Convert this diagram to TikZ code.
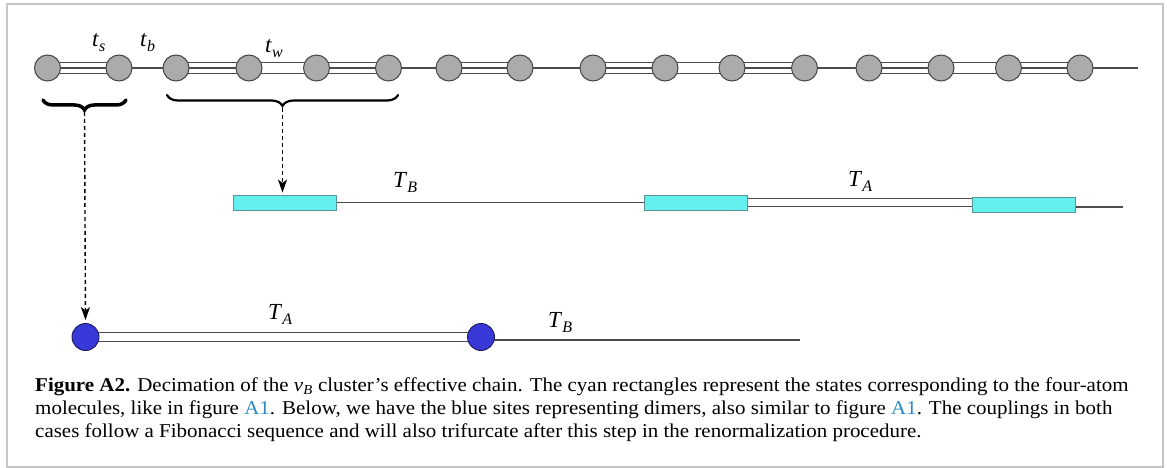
\documentclass[tikz,border=0pt]{standalone}
\usepackage{fontspec}
\setmainfont{Liberation Serif}
\newfontfamily\capfont{Liberation Serif}[FakeStretch=1.07]
\usetikzlibrary{arrows.meta,decorations.pathreplacing,backgrounds}

\definecolor{atomfill}{HTML}{ABABAB}
\definecolor{atomedge}{HTML}{454545}
\definecolor{bondcol}{HTML}{4C4C4C}
\definecolor{cyanfill}{HTML}{62EFEE}
\definecolor{cyanedge}{HTML}{5A9497}
\definecolor{dimerfill}{HTML}{3838D8}
\definecolor{dimeredge}{HTML}{1C1C5C}
\definecolor{linkblue}{HTML}{2A8AC6}
\definecolor{framegray}{HTML}{C6C6C6}

% coupling label: italic symbol with a lowered italic index
\newcommand{\coup}[2]{\textit{#1}\raisebox{-5pt}{\fontsize{16}{16}\selectfont\textit{#2}}}

% strong bond: two outer lines and a centre line; weak bond: two lines
\newcommand{\strongbond}[2]{\draw[wbond] (#1.center) -- (#2.center); \draw[bondline] (#1.center) -- (#2.center);}
\newcommand{\weakbond}[2]{\draw[wbond] (#1.center) -- (#2.center);}

\begin{document}
\begin{tikzpicture}[x=1pt,y=-1pt,
  atom/.style={circle,draw=atomedge,fill=atomfill,line width=1pt,minimum size=26pt,inner sep=0pt},
  molecule/.style={rectangle,draw=cyanedge,fill=cyanfill,line width=0.9pt,minimum width=103pt,minimum height=15pt,inner sep=0pt},
  dimer/.style={circle,draw=dimeredge,fill=dimerfill,line width=0.9pt,minimum size=27pt,inner sep=0pt},
  bondline/.style={draw=bondcol,line width=1.2pt},
  wbond/.style={bondline,double=white,double distance=10.2pt},
  effbond/.style={bondline,double=white,double distance=7.8pt},
  lbl/.style={anchor=base west,inner sep=0pt,font=\fontsize{23}{23}\selectfont},
  captionline/.style={anchor=base west,inner sep=0pt,font=\capfont\fontsize{19.6}{23}\selectfont},
  bracebig/.style={decorate,decoration={brace,mirror,amplitude=10pt},line width=3.5pt,line cap=round},
  bracewide/.style={decorate,decoration={brace,mirror,amplitude=11pt},line width=2.2pt,line cap=round},
  maparrow/.style={line width=1.4pt,dash pattern=on 4pt off 3pt,-{Stealth[length=13pt,width=9pt,inset=3.5pt]}}
]
\useasboundingbox (0,0) rectangle (1167,468);
\draw[framegray,line width=2pt] (7,4) rectangle (1163,467);

% original chain
\foreach \i/\x in {1/47.5,2/119,3/176,4/249,5/316.5,6/388.5,7/449,8/520,
                   9/593,10/665,11/732,12/804.5,13/869,14/941,15/1008.5,16/1080}
  \node[atom] (a\i) at (\x,68) {};
\coordinate (chainend) at (1138,68);

\begin{pgfonlayer}{background}
  \strongbond{a1}{a2}
  \draw[bondline] (a2.center) -- (a3.center);
  \strongbond{a3}{a4}
  \weakbond{a4}{a5}
  \strongbond{a5}{a6}
  \draw[bondline] (a6.center) -- (a7.center);
  \strongbond{a7}{a8}
  \draw[bondline] (a8.center) -- (a9.center);
  \strongbond{a9}{a10}
  \weakbond{a10}{a11}
  \strongbond{a11}{a12}
  \draw[bondline] (a12.center) -- (a13.center);
  \strongbond{a13}{a14}
  \weakbond{a14}{a15}
  \strongbond{a15}{a16}
  \draw[bondline] (a16.center) -- (chainend);
\end{pgfonlayer}

\node[lbl] (ts) at (92,47) {\coup{t}{s}};
\node[lbl] (tb) at (140,47) {\coup{t}{b}};
\node[lbl] (tw) at (265,53) {\coup{t}{w}};

% braces grouping the dimer and the four-atom molecule
\draw[bracebig] (43,100) -- (126,100);
\coordinate (dimtip) at (84.5,112);
\draw[bracewide] (167,95) -- (398,95);
\coordinate (moltip) at (282.5,108);

% effective chain of four-atom molecules
\node[molecule] (m1) at (285,202.5) {};
\node[molecule] (m2) at (695.5,202.5) {};
\node[molecule] (m3) at (1023.5,204.5) {};
\coordinate (molend) at (1123,207);
\draw[bondline] (m1.east) -- (m2.west);
\begin{pgfonlayer}{background}
  \draw[bondline,double=white,double distance=7pt] (m2.center) -- (m2.center -| m3.center);
  \draw[bondline] (m3.center |- molend) -- (molend);
\end{pgfonlayer}
\node[lbl] (TB1) at (393,187) {\coup{T}{B}};
\node[lbl] (TA1) at (848,186) {\coup{T}{A}};

% effective chain of dimers
\node[dimer] (d1) at (85.5,337) {};
\node[dimer] (d2) at (481,337) {};
\coordinate (dimend) at (800,340);
\begin{pgfonlayer}{background}
  \draw[effbond] (d1.center) -- (d2.center);
  \draw[bondline] (d2.center |- dimend) -- (dimend);
\end{pgfonlayer}
\node[lbl] (TA2) at (268,319) {\coup{T}{A}};
\node[lbl] (TB2) at (548,327) {\coup{T}{B}};

% decimation arrows
\draw[maparrow,shorten >=3pt] (dimtip) -- (d1.north);
\draw[maparrow,shorten >=2pt] (moltip) -- (moltip |- m1.north);

% caption
\node[captionline] (cap1) at (35,391) {\textbf{Figure A2.} Decimation of the \textit{v}\textsubscript{\textit{B}} cluster’s effective chain. The cyan rectangles represent the states corresponding to the four-atom};
\node[captionline] (cap2) at (35,414) {molecules, like in figure {\color{linkblue}A1}. Below, we have the blue sites representing dimers, also similar to figure {\color{linkblue}A1}. The couplings in both};
\node[captionline] (cap3) at (35,437) {cases follow a Fibonacci sequence and will also trifurcate after this step in the renormalization procedure.};
\end{tikzpicture}
\end{document}
